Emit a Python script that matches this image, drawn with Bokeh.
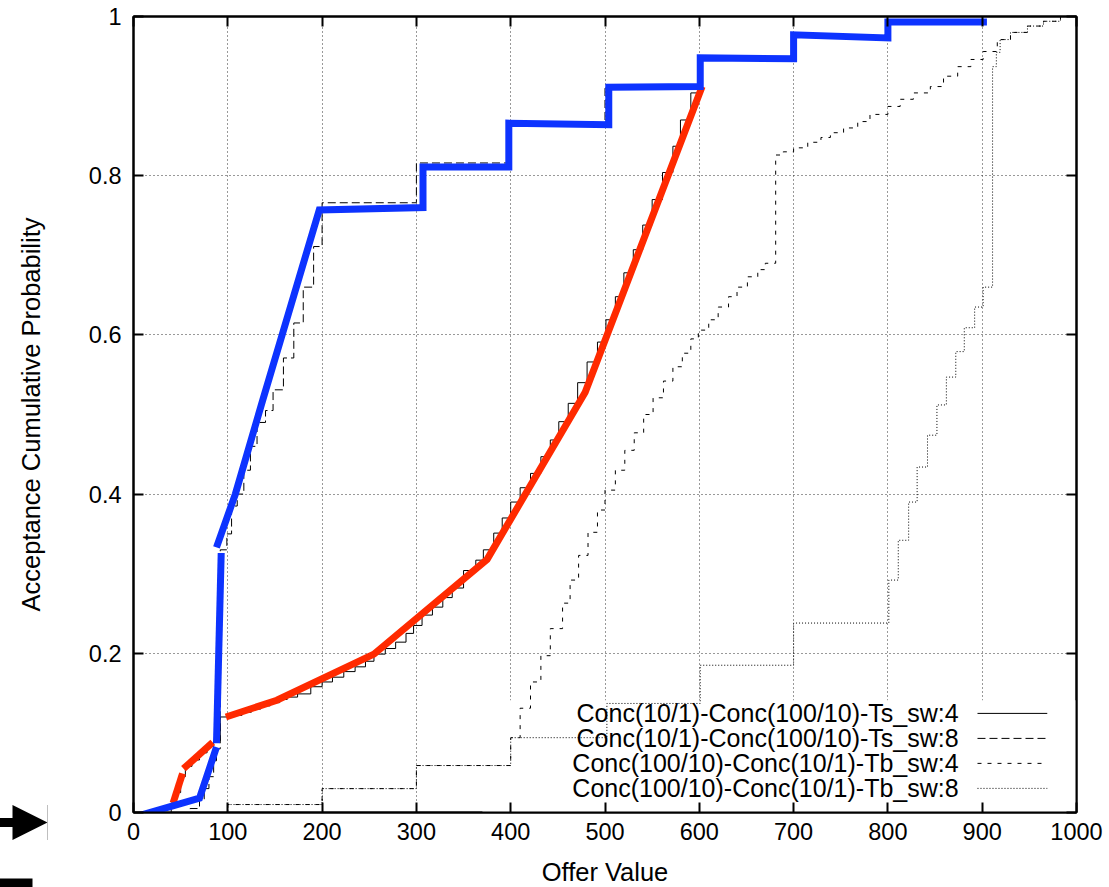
from bokeh.plotting import figure
from bokeh.models import (LinearAxis, FixedTicker, CustomJSTickFormatter, Range1d,
                          Arrow, OpenHead, NormalHead)
from bokeh.embed import file_html
from bokeh.resources import INLINE
from bokeh.core.properties import value

FONT = "Liberation Sans"

# ---------------- data ----------------
x_ticks = [0, 100, 200, 300, 400, 500, 600, 700, 800, 900, 1000]
y_ticks = [0, 0.2, 0.4, 0.6, 0.8, 1.0]

legend_labels = [
    "Conc(10/1)-Conc(100/10)-Ts_sw:4",
    "Conc(10/1)-Conc(100/10)-Ts_sw:8",
    "Conc(100/10)-Conc(10/1)-Tb_sw:4",
    "Conc(100/10)-Conc(10/1)-Tb_sw:8",
]

# Ts_sw:4 (solid step curve)
ts4_x = [0, 40, 45, 50, 55, 62, 70, 78, 85, 92, 105, 115, 125, 135, 145, 155, 163, 174,
         188, 200, 211, 223, 235, 246, 255, 267, 278, 289, 297, 306, 317, 328, 338, 350,
         363, 371, 382, 391, 400, 410, 421, 432, 442, 451, 461, 471, 481, 492, 501, 511,
         520, 530, 540, 550, 561, 572, 580, 591, 599]
ts4_y = [0.0, 0.012, 0.025, 0.045, 0.058, 0.066, 0.075, 0.083, 0.09, 0.12, 0.122, 0.126,
         0.13, 0.134, 0.138, 0.142, 0.145, 0.149, 0.158, 0.164, 0.17, 0.177, 0.183, 0.19,
         0.199, 0.206, 0.214, 0.225, 0.235, 0.248, 0.258, 0.27, 0.282, 0.304, 0.317, 0.33,
         0.351, 0.37, 0.39, 0.408, 0.426, 0.447, 0.468, 0.491, 0.514, 0.54, 0.566, 0.591,
         0.619, 0.648, 0.678, 0.707, 0.738, 0.77, 0.804, 0.837, 0.87, 0.904, 0.912]

# Ts_sw:8 (dashed step curve)
ts8_x = [0, 60, 70, 75, 80, 85, 88, 92, 99, 104, 110, 117, 124, 131, 140, 148, 159, 170,
         180, 191, 200, 300, 400, 500, 600, 700, 800, 900]
ts8_y = [0.0, 0.005, 0.015, 0.03, 0.045, 0.065, 0.08, 0.33, 0.35, 0.385, 0.4, 0.43, 0.46,
         0.49, 0.505, 0.531, 0.571, 0.615, 0.66, 0.711, 0.766, 0.816, 0.866, 0.91, 0.948,
         0.975, 0.99, 0.99]

# Tb_sw:4 (short-dashed step curve)
tb4_x = [0, 100, 200, 300, 400, 410, 421, 432, 442, 455, 463, 472, 482, 492, 500, 511,
         521, 531, 541, 551, 562, 572, 582, 591, 599, 610, 620, 631, 640, 651, 662, 670,
         681, 689, 700, 715, 729, 739, 753, 768, 781, 800, 813, 827, 845, 859, 874, 888,
         901, 916, 930, 948, 965, 983, 1000]
tb4_y = [0.0, 0.01, 0.03, 0.059, 0.094, 0.131, 0.164, 0.197, 0.231, 0.263, 0.292, 0.323,
         0.352, 0.38, 0.405, 0.43, 0.455, 0.477, 0.5, 0.521, 0.542, 0.56, 0.577, 0.595,
         0.606, 0.619, 0.635, 0.648, 0.66, 0.673, 0.682, 0.69, 0.826, 0.83, 0.835, 0.842,
         0.848, 0.854, 0.86, 0.868, 0.877, 0.887, 0.896, 0.904, 0.912, 0.925, 0.937, 0.946,
         0.956, 0.971, 0.98, 0.988, 0.994, 1.0, 1.0]

# Tb_sw:8 (dotted step curve)
tb8_x = [0, 100, 200, 300, 400, 502, 601, 700, 801, 811, 822, 831, 842, 852, 862, 872,
         881, 892, 901, 911, 915, 919, 930, 948, 965, 983, 1000]
tb8_y = [0.0, 0.01, 0.03, 0.059, 0.094, 0.137, 0.185, 0.238, 0.292, 0.342, 0.39, 0.434,
         0.474, 0.512, 0.547, 0.579, 0.609, 0.635, 0.66, 0.937, 0.955, 0.971, 0.98, 0.988,
         0.994, 1.0, 1.0]

# hand-drawn red overlay (three strokes)
red_x = [[42, 52], [53, 84], [98, 152, 255, 375, 479, 603]]
red_y = [[0.012, 0.049], [0.055, 0.088], [0.12, 0.141, 0.199, 0.318, 0.528, 0.912]]

# hand-drawn blue overlay (three strokes)
blue_x = [[0, 70, 88], [88, 93],
          [88, 108, 137, 197, 307, 307, 398, 398, 504, 504, 601, 601, 700, 700, 800, 800, 905]]
blue_y = [[-0.006, 0.018, 0.082], [0.087, 0.326],
          [0.333, 0.40, 0.518, 0.757, 0.760, 0.811, 0.811, 0.866, 0.864, 0.911, 0.912,
           0.948, 0.947, 0.977, 0.973, 0.993, 0.993]]

# ---------------- figure ----------------
p = figure(frame_width=943, frame_height=796,
           min_border_left=133, min_border_right=30, min_border_top=16, min_border_bottom=74,
           x_range=Range1d(0, 1000), y_range=Range1d(0, 1),
           output_backend="svg", toolbar_location=None)
p.background_fill_color = "white"
p.border_fill_color = "white"
p.outline_line_color = "black"
p.outline_line_width = 2

xt = FixedTicker(ticks=x_ticks)
yt = FixedTicker(ticks=y_ticks)
yfmt = CustomJSTickFormatter(code="return tick === 0 ? '0' : (Math.abs(tick-1) < 1e-9 ? '1' : tick.toFixed(1));")
blank = CustomJSTickFormatter(code="return '';")

for ax in (p.xaxis[0], p.yaxis[0]):
    ax.major_tick_in = 10
    ax.major_tick_out = 0
    ax.minor_tick_line_color = None
    ax.axis_line_width = 2
    ax.major_tick_line_width = 2
    ax.major_label_text_font = FONT
    ax.major_label_text_font_size = "23.5px"
    ax.major_label_text_color = "black"
    ax.axis_label_text_font = FONT
    ax.axis_label_text_font_size = "25.5px"
    ax.axis_label_text_font_style = "normal"
    ax.axis_label_text_color = "black"

p.xaxis[0].ticker = xt
p.yaxis[0].ticker = yt
p.yaxis[0].formatter = yfmt
p.xaxis[0].axis_label = "Offer Value"
p.yaxis[0].axis_label = "Acceptance Cumulative Probability"
p.xaxis[0].major_label_standoff = 10
p.xaxis[0].axis_label_standoff = 15
p.yaxis[0].major_label_standoff = 12
p.yaxis[0].axis_label_standoff = 41

# mirrored ticks (top / right)
top_ax = LinearAxis(ticker=FixedTicker(ticks=x_ticks), formatter=blank,
                    major_label_standoff=0, major_tick_in=10, major_tick_out=0,
                    minor_tick_line_color=None, axis_line_width=2, major_tick_line_width=2)
right_ax = LinearAxis(ticker=FixedTicker(ticks=y_ticks), formatter=blank,
                      major_label_standoff=0, major_tick_in=10, major_tick_out=0,
                      minor_tick_line_color=None, axis_line_width=2, major_tick_line_width=2)
p.add_layout(top_ax, "above")
p.add_layout(right_ax, "right")

for g in (p.xgrid[0], p.ygrid[0]):
    g.grid_line_color = "#333333"
    g.grid_line_dash = "1 3"
    g.grid_line_width = 1
p.xgrid[0].ticker = xt
p.ygrid[0].ticker = yt

# key area hides the grid (gnuplot style)
key_left, key_right, key_bottom, key_top = 370, 1000, 0, 0.141
p.quad(left=[key_left], right=[key_right], bottom=[key_bottom], top=[key_top],
       fill_color="white", line_color=None)

# thin data curves
styles = [
    dict(line_dash="solid"),
    dict(line_dash="8 4"),
    dict(line_dash="4 6"),
    dict(line_dash="1 2"),
]
series = [(ts4_x, ts4_y), (ts8_x, ts8_y), (tb4_x, tb4_y), (tb8_x, tb8_y)]
for (sx, sy), st in zip(series, styles):
    p.step(sx, sy, mode="after", line_color="black", line_width=1, **st)

# key
key_text_x = 875
key_sample_x0, key_sample_x1 = 895, 969
key_row_y0, key_row_dy = 0.1245, 0.0314
for i, (lab, st) in enumerate(zip(legend_labels, styles)):
    yy = key_row_y0 - i * key_row_dy
    p.text(x=[key_text_x], y=[yy], text=[lab], text_align="right", text_baseline="middle",
           text_font=value(FONT), text_font_size="25px", text_color="black")
    p.line([key_sample_x0, key_sample_x1], [yy, yy], line_color="black", line_width=1, **st)

# hand-drawn thick overlays
for xs, ys in zip(red_x, red_y):
    p.line(xs, ys, line_color="#ff2a00", line_width=7, line_cap="butt", line_join="miter")
for xs, ys in zip(blue_x, blue_y):
    p.line(xs, ys, line_color="#0d33ff", line_width=7, line_cap="butt", line_join="miter")

# marks outside the plot at the left edge: an arrow and a bar
# (outside the frame only the part of a shaft that lies under its head's box is shown)
arrow_y, arrow_tip, head_len = 822, 47, 35
head_box = Arrow(x_start=0, y_start=arrow_y, x_end=arrow_tip, y_end=arrow_y,
                 start_units="canvas", end_units="canvas",
                 line_color="black", line_width=40,
                 end=NormalHead(size=head_len, fill_color="black", line_color="black"))
head_trim = Arrow(x_start=0, y_start=arrow_y, x_end=arrow_tip, y_end=arrow_y,
                  start_units="canvas", end_units="canvas",
                  line_color="white", line_width=42,
                  end=OpenHead(size=head_len, line_color="white"))
shaft = Arrow(x_start=-200, y_start=arrow_y, x_end=24, y_end=arrow_y,
              start_units="canvas", end_units="canvas",
              line_color="black", line_width=9,
              end=NormalHead(size=220, fill_color="black", line_color="black"))
bar_y = 884
bar = Arrow(x_start=-300, y_start=bar_y, x_end=32, y_end=bar_y,
            start_units="canvas", end_units="canvas",
            line_color="black", line_width=12,
            end=NormalHead(size=300, fill_color="black", line_color="black"))
p.add_layout(head_box)
p.add_layout(head_trim)
p.add_layout(shaft)
p.add_layout(bar)

open("out.html", "w").write(file_html(p, INLINE))
